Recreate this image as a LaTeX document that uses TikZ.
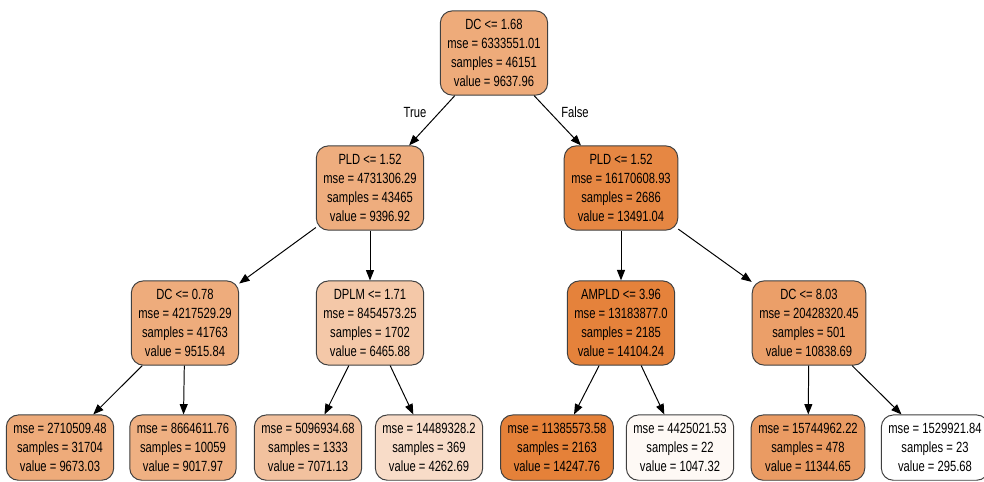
\documentclass[tikz,border=0pt]{standalone}
\usepackage{fontspec}
\setmainfont{Liberation Sans}[FakeStretch=0.76]
\usetikzlibrary{arrows.meta}
\definecolor{laranja}{RGB}{229,129,57}

\begin{document}
\begin{tikzpicture}[
            no/.style={shape=rectangle, rounded corners=0.3cm, draw=black!75, line width=0.7pt,
                align=center, inner xsep=5pt, inner ysep=6pt, font=\fontsize{10.5}{13.5}\selectfont},
            rotulo/.style={font=\fontsize{10.5}{13.5}\selectfont},
            aresta/.style={line width=0.7pt, -{Triangle[length=0.26cm, width=0.2cm]}},
        ]
        \clip (0,0) rectangle (24.6,-12.025);

        \node[no, fill=laranja!67] (raiz) at (12.35, -1.325) {DC <= 1.68\\mse = 6333551.01\\samples = 46151\\value = 9637.96};
        \node[no, fill=laranja!65] (pldesq) at (9.25, -4.7) {PLD <= 1.52\\mse = 4731306.29\\samples = 43465\\value = 9396.92};
        \node[no, fill=laranja!95] (plddir) at (15.525, -4.7) {PLD <= 1.52\\mse = 16170608.93\\samples = 2686\\value = 13491.04};
        \node[no, fill=laranja!66] (dca) at (4.625, -8.075) {DC <= 0.78\\mse = 4217529.29\\samples = 41763\\value = 9515.84};
        \node[no, fill=laranja!44] (dplm) at (9.25, -8.075) {DPLM <= 1.71\\mse = 8454573.25\\samples = 1702\\value = 6465.88};
        \node[no, fill=laranja!99] (ampld) at (15.525, -8.075) {AMPLD <= 3.96\\mse = 13183877.0\\samples = 2185\\value = 14104.24};
        \node[no, fill=laranja!76] (dcb) at (20.225, -8.075) {DC <= 8.03\\mse = 20428320.45\\samples = 501\\value = 10838.69};

        \node[no, fill=laranja!67] (f1) at (1.5, -11.19) {mse = 2710509.48\\samples = 31704\\value = 9673.03};
        \node[no, fill=laranja!63] (f2) at (4.575, -11.19) {mse = 8664611.76\\samples = 10059\\value = 9017.97};
        \node[no, fill=laranja!49] (f3) at (7.7, -11.19) {mse = 5096934.68\\samples = 1333\\value = 7071.13};
        \node[no, fill=laranja!28] (f4) at (10.725, -11.19) {mse = 14489328.2\\samples = 369\\value = 4262.69};
        \node[no, fill=laranja] (f5) at (13.925, -11.19) {mse = 11385573.58\\samples = 2163\\value = 14247.76};
        \node[no, fill=laranja!5] (f6) at (17.0, -11.19) {mse = 4425021.53\\samples = 22\\value = 1047.32};
        \node[no, fill=laranja!79] (f7) at (20.2, -11.19) {mse = 15744962.22\\samples = 478\\value = 11344.65};
        \node[no, fill=white] (f8) at (23.375, -11.19) {mse = 1529921.84\\samples = 23\\value = 295.68};

        \node[rotulo] (verdade) at (10.375, -2.8) {True};
        \node[rotulo] (falso) at (14.375, -2.8) {False};

        \draw[aresta] (raiz) -- (pldesq);
        \draw[aresta] (raiz) -- (plddir);
        \draw[aresta] (pldesq) -- (dca);
        \draw[aresta] (pldesq) -- (dplm);
        \draw[aresta] (plddir) -- (ampld);
        \draw[aresta] (plddir) -- (dcb);
        \draw[aresta] (dca) -- (f1);
        \draw[aresta] (dca) -- (f2);
        \draw[aresta] (dplm) -- (f3);
        \draw[aresta] (dplm) -- (f4);
        \draw[aresta] (ampld) -- (f5);
        \draw[aresta] (ampld) -- (f6);
        \draw[aresta] (dcb) -- (f7);
        \draw[aresta] (dcb) -- (f8);

    \end{tikzpicture}
\end{document}
